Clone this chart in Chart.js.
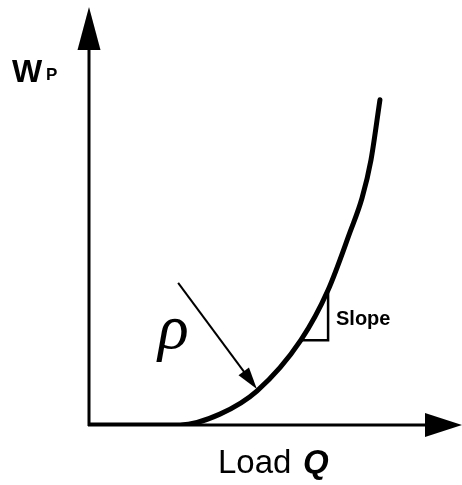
<!DOCTYPE html>
<html>
<head>
<meta charset="utf-8">
<script src="https://cdn.jsdelivr.net/npm/chart.js@4.4.1/dist/chart.umd.min.js"></script>
<style>
  html, body { margin: 0; padding: 0; background: #fff; }
  #c { display: block; }
</style>
</head>
<body>
<canvas id="c" width="462" height="485"></canvas>
<script>
// curve (load Q vs W_P, arbitrary units 0..100)
const loadQ = [0, 24.4, 35.1, 45.0, 56.8, 64.1, 70.0, 73.2, 75.6, 78.0];
const wp    = [0, 0,    2.6,  8.1,  20.3, 32.3, 46.2, 54.3, 63.4, 77.8];

// slope triangle corners
const slopeQ = [56.8, 64.1, 64.1];
const slopeW = [20.3, 20.3, 32.3];

// rho pointer arrow (from, to)
const rhoFrom = [23.9, 34.0];
const rhoTo   = [45.0, 8.6];

const axisMax = 100;

function pts(xs, ys) {
  return xs.map((x, i) => ({ x: x, y: ys[i] }));
}

function arrowHead(ctx, x1, y1, x2, y2, len, half) {
  const a = Math.atan2(y2 - y1, x2 - x1);
  ctx.beginPath();
  ctx.moveTo(x2, y2);
  ctx.lineTo(x2 - len * Math.cos(a) + half * Math.sin(a), y2 - len * Math.sin(a) - half * Math.cos(a));
  ctx.lineTo(x2 - len * Math.cos(a) - half * Math.sin(a), y2 - len * Math.sin(a) + half * Math.cos(a));
  ctx.closePath();
  ctx.fill();
}

const sketchPlugin = {
  id: 'sketch',
  beforeDatasetsDraw(chart) {
    const ctx = chart.ctx;
    const sx = chart.scales.x, sy = chart.scales.y;
    const x0 = sx.getPixelForValue(0), y0 = sy.getPixelForValue(0);
    const xEnd = sx.getPixelForValue(axisMax), yEnd = sy.getPixelForValue(axisMax);
    ctx.save();
    ctx.strokeStyle = '#000';
    ctx.fillStyle = '#000';
    ctx.lineWidth = 3;
    // vertical axis
    ctx.beginPath();
    ctx.moveTo(x0, y0 + 1);
    ctx.lineTo(x0, yEnd + 40);
    ctx.stroke();
    arrowHead(ctx, x0, y0, x0, yEnd, 43, 11.5);
    // horizontal axis
    ctx.beginPath();
    ctx.moveTo(x0 - 1, y0);
    ctx.lineTo(xEnd - 35, y0);
    ctx.stroke();
    arrowHead(ctx, x0, y0, xEnd, y0, 37, 12);
    ctx.restore();
  },
  afterDatasetsDraw(chart) {
    const ctx = chart.ctx;
    const sx = chart.scales.x, sy = chart.scales.y;
    ctx.save();
    ctx.fillStyle = '#000';
    ctx.strokeStyle = '#000';

    // rho pointer
    const ax = sx.getPixelForValue(rhoFrom[0]), ay = sy.getPixelForValue(rhoFrom[1]);
    const bx = sx.getPixelForValue(rhoTo[0]), by = sy.getPixelForValue(rhoTo[1]);
    const ang = Math.atan2(by - ay, bx - ax);
    ctx.lineWidth = 2;
    ctx.beginPath();
    ctx.moveTo(ax, ay);
    ctx.lineTo(bx - 18 * Math.cos(ang), by - 18 * Math.sin(ang));
    ctx.stroke();
    arrowHead(ctx, ax, ay, bx, by, 22, 6.5);

    // texts
    ctx.textBaseline = 'alphabetic';
    ctx.textAlign = 'left';
    ctx.font = 'bold 32px "Liberation Sans", Arial, sans-serif';
    ctx.fillText('W', 12, 82);
    ctx.font = 'bold 17px "Liberation Sans", Arial, sans-serif';
    ctx.fillText('P', 46, 80);

    ctx.font = 'italic 64px "Liberation Serif", "Times New Roman", serif';
    ctx.fillText('\u03C1', 158, 348);

    ctx.font = 'bold 20px "Liberation Sans", Arial, sans-serif';
    ctx.fillText('Slope', 336, 325);

    ctx.font = '33px "Liberation Sans", Arial, sans-serif';
    ctx.fillText('Load', 218, 473);
    ctx.font = 'bold italic 33px "Liberation Sans", Arial, sans-serif';
    ctx.fillText('Q', 303, 473);
    ctx.restore();
  }
};

new Chart(document.getElementById('c'), {
  type: 'scatter',
  data: {
    datasets: [
      {
        label: 'slope',
        data: pts(slopeQ, slopeW),
        showLine: true,
        borderColor: '#000',
        borderWidth: 2.5,
        pointRadius: 0,
        tension: 0,
        borderJoinStyle: 'miter'
      },
      {
        label: 'W_P',
        data: pts(loadQ, wp),
        showLine: true,
        borderColor: '#000',
        borderWidth: 5,
        pointRadius: 0,
        cubicInterpolationMode: 'monotone',
        borderCapStyle: 'round'
      }
    ]
  },
  options: {
    responsive: false,
    animation: false,
    layout: { padding: { left: 89, right: 0, top: 7, bottom: 60 } },
    plugins: { legend: { display: false }, tooltip: { enabled: false } },
    scales: {
      x: { type: 'linear', min: 0, max: axisMax, display: false },
      y: { type: 'linear', min: 0, max: axisMax, display: false }
    }
  },
  plugins: [sketchPlugin]
});
</script>
</body>
</html>
